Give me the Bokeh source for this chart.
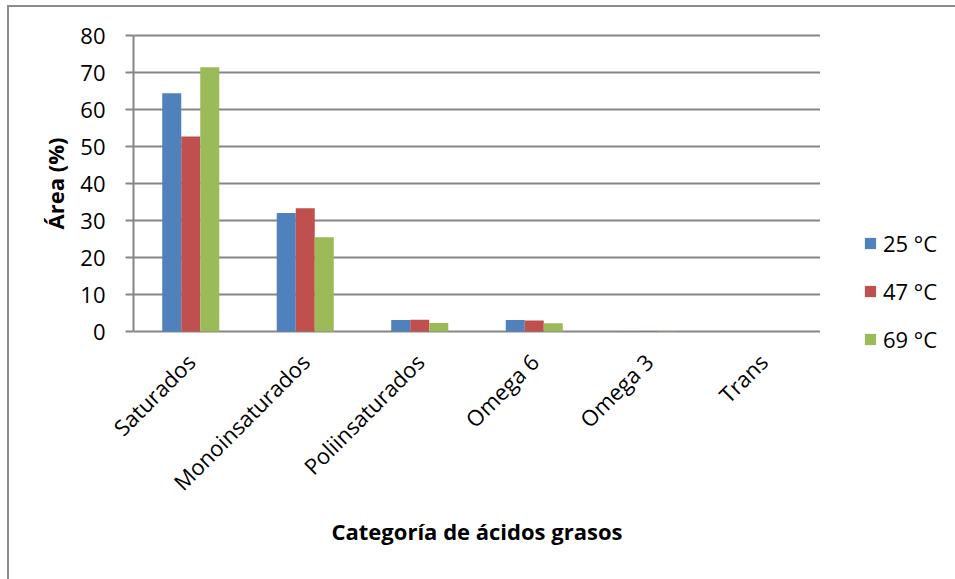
from bokeh.plotting import figure
from bokeh.layouts import row
from bokeh.models import Range1d, Legend, LegendItem, ColumnDataSource
from bokeh.transform import dodge
from bokeh.embed import file_html
from bokeh.resources import INLINE

# Fatty-acid composition (% area) by category and temperature
categories = ["Saturados", "Monoinsaturados", "Poliinsaturados", "Omega 6", "Omega 3", "Trans"]
area_25 = [64.4, 32.0, 3.1, 3.1, 0.1, 0.0]
area_47 = [52.7, 33.3, 3.2, 3.0, 0.1, 0.0]
area_69 = [71.4, 25.5, 2.3, 2.2, 0.1, 0.0]
series_labels = ["25 °C", "47 °C", "69 °C"]
y_ticks = [0, 10, 20, 30, 40, 50, 60, 70, 80]

colors = ["#4F81BD", "#C0504D", "#9BBB59"]
grey = "#868686"
font = "Open Sans"

source = ColumnDataSource(dict(cat=categories, a25=area_25, a47=area_47, a69=area_69))

# value axis: 3.7 px per unit, with 25 px of empty room above and below
px_per_unit = 3.7
pad = 25 / px_per_unit
y_lo, y_hi = min(y_ticks), max(y_ticks)

# ---- main bar chart ----
p = figure(
    x_range=categories,
    y_range=Range1d(y_lo - pad, y_hi + pad),
    frame_width=687, frame_height=346,
    output_backend="svg",
    toolbar_location=None,
    min_border_left=133, min_border_right=0,
    min_border_top=10, min_border_bottom=223,
)
p.outline_line_color = None
p.background_fill_color = "white"
p.border_fill_color = None

bw = 0.166
for col, off, c in zip(["a25", "a47", "a69"], [-bw, 0, bw], colors):
    p.vbar(x=dodge("cat", off, range=p.x_range), top=col, width=bw,
           source=source, fill_color=c, line_color=None)

p.xgrid.grid_line_color = None
p.ygrid.grid_line_color = grey
p.ygrid.grid_line_width = 2
p.yaxis.ticker = y_ticks
p.yaxis.bounds = (y_lo, y_hi)

p.yaxis.axis_line_color = grey
p.yaxis.axis_line_width = 2
p.yaxis.major_tick_line_color = grey
p.yaxis.major_tick_line_width = 2
p.yaxis.major_tick_out = 8
p.yaxis.major_tick_in = 0
p.yaxis.minor_tick_line_color = None
p.yaxis.major_label_text_font = font
p.yaxis.major_label_text_font_size = "22px"
p.yaxis.major_label_text_color = "black"
p.yaxis.major_label_standoff = 20
p.yaxis.axis_label = "Área (%)"
p.yaxis.axis_label_text_font = font
p.yaxis.axis_label_text_font_style = "bold"
p.yaxis.axis_label_text_font_size = "22px"
p.yaxis.axis_label_text_color = "black"
p.yaxis.axis_label_standoff = 7

# the zero gridline serves as the category baseline
p.xaxis.axis_line_color = None
p.xaxis.major_tick_line_color = None
p.xaxis.minor_tick_line_color = None
p.xaxis.major_label_orientation = 0.785398
p.xaxis.major_label_text_font = font
p.xaxis.major_label_text_font_size = "22px"
p.xaxis.major_label_text_color = "black"
p.xaxis.major_label_standoff = -5
p.xaxis.axis_label = "Categoría de ácidos grasos"
p.xaxis.axis_label_text_font = font
p.xaxis.axis_label_text_font_style = "bold"
p.xaxis.axis_label_text_font_size = "22px"
p.xaxis.axis_label_text_color = "black"
p.xaxis.axis_label_standoff = 6

# ---- legend panel ----
lf = figure(
    width=135, height=579,
    x_range=Range1d(0, 1), y_range=Range1d(0, 1),
    x_axis_type=None, y_axis_type=None,
    output_backend="svg", toolbar_location=None, min_border=0,
)
lf.grid.visible = False
lf.outline_line_color = None
lf.background_fill_color = None
lf.border_fill_color = None

# zero-height bars that only supply the legend swatches
swatches = [lf.vbar(x=[0.5], top=[0], bottom=[0], width=0.1, fill_color=c, line_color=None)
            for c in colors]
legend = Legend(
    items=[LegendItem(label=l, renderers=[r]) for l, r in zip(series_labels, swatches)],
    location=(43, 2),
    orientation="vertical",
    glyph_width=14, glyph_height=14,
    label_height=24, spacing=18,
    label_text_font=font, label_text_font_size="22px",
    label_text_color="black",
    label_standoff=6, padding=0, margin=0,
    border_line_color=None, background_fill_alpha=0,
)
lf.add_layout(legend)

layout = row(p, lf)
# thin grey chart-area border along the left and top edges
layout.styles = {
    "background": (
        "linear-gradient(#8C8C8C,#8C8C8C) 7px 5px / 2px 100% no-repeat, "
        "linear-gradient(#8C8C8C,#8C8C8C) 7px 5px / 100% 2px no-repeat, white"
    )
}

open("out.html", "w").write(file_html(layout, INLINE))
